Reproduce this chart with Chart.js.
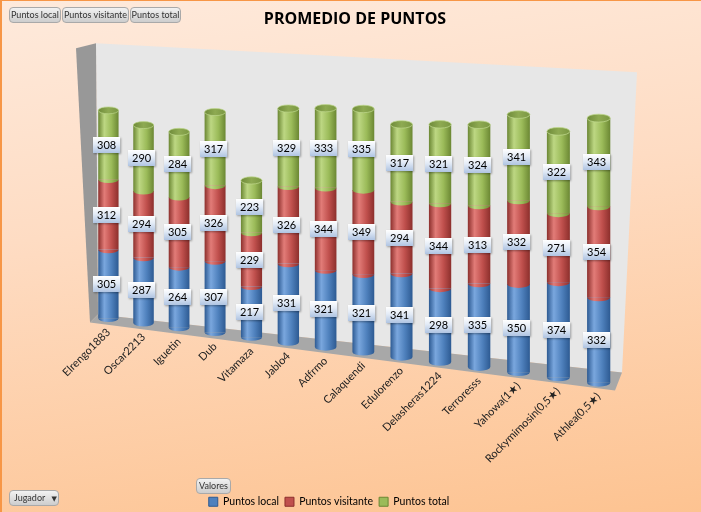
<!DOCTYPE html>
<html>
<head>
<meta charset="utf-8">
<script src="https://cdn.jsdelivr.net/npm/chart.js@4.4.0/dist/chart.umd.min.js"></script>
<style>
html,body{margin:0;padding:0;}
body{width:701px;height:512px;overflow:hidden;position:relative;
  background:linear-gradient(172deg,#feeadc 0%,#fedcc3 40%,#fdc391 100%);}
#c{position:absolute;left:0;top:0;}
#frame{position:absolute;left:0;top:0;width:701px;height:512px;box-sizing:border-box;
  border-top:1px solid #f79646;border-left:2px solid #f79646;pointer-events:none;}
.btn{position:absolute;font:9px Lato,"DejaVu Sans",sans-serif;color:#333;
  background:linear-gradient(#f2f2f2,#cdcdcd);border:1px solid #a9a9a9;border-radius:4px;
  height:16px;line-height:14px;text-align:center;box-sizing:border-box;white-space:nowrap;}
</style>
</head>
<body>
<canvas id="c" width="701" height="512"></canvas>
<div class="btn" style="left:9px;top:7px;width:52px;">Puntos local</div>
<div class="btn" style="left:62px;top:7px;width:67px;">Puntos visitante</div>
<div class="btn" style="left:130px;top:7px;width:51px;">Puntos total</div>
<div class="btn" style="left:196px;top:478px;width:35px;">Valores</div>
<div class="btn" style="left:9px;top:490px;width:50px;text-align:left;padding-left:4px;">Jugador <span style="font-size:7px;margin-left:4px;">▼</span></div>
<div id="frame"></div>
<script>
// ---------- data ----------
const categories = ['Elrengo1883','Oscar2213','Iguetin','Dub','Vitamaza','Jablo4','Adfrmo','Calaquendi','Edulorenzo','Delasheras1224','Terroresss','Yahowa(1★)','Rockymimosin(0,5★)','Athlea(0,5★)'];
const puntosLocal     = [305,287,264,307,217,331,321,321,341,298,335,350,374,332];
const puntosVisitante = [312,294,305,326,229,326,344,349,294,344,313,332,271,354];
const puntosTotal     = [308,290,284,317,223,329,333,335,317,321,324,341,322,343];
const seriesNames = ['Puntos local','Puntos visitante','Puntos total'];
const titleText = 'PROMEDIO DE PUNTOS';

// ---------- styles ----------
const seriesColors = ['#4f81bd','#c0504d','#9bbb59'];
const shadeDark  = ['#2d5a92','#8c2f2c','#6b8733'];
const shadeLight = ['#7aa7de','#e27c78','#bdd783'];
const FONT = 'Lato, "DejaVu Sans", sans-serif';
const FLOOR_SLOPE = 0.131;   // perspective: floor line descends to the right
const DEPTH_LEFT = 0.933, DEPTH_RIGHT = 1.066; // perspective size factor
const X_WARP = 0.08;

function projection(chart, xc) {
  const xs = chart.scales.x, ys = chart.scales.y;
  const x0 = xs.getPixelForValue(0), xn = xs.getPixelForValue(categories.length - 1);
  const t = (xc - x0) / (xn - x0);
  const r = DEPTH_LEFT + (DEPTH_RIGHT - DEPTH_LEFT) * t;
  const yb = ys.getPixelForValue(0);
  const dy = FLOOR_SLOPE * (xc - x0);
  return { r, e: xc * (1 - r), f: yb + dy - r * yb,
           map: (x, y) => [xc + r * (x - xc), yb + dy + r * (y - yb)] };
}

class DepthCategoryScale extends Chart.CategoryScale {
  getPixelForDecimal(decimal) {
    return super.getPixelForDecimal(decimal - X_WARP * decimal * (1 - decimal));
  }
  getLabelItems(chartArea) {
    const items = super.getLabelItems(chartArea);
    const x0 = this.getPixelForValue(0);
    return items.map(it => {
      const tr = it.options.translation;
      return Object.assign({}, it, { options: Object.assign({}, it.options,
        { translation: [tr[0], tr[1] + FLOOR_SLOPE * (tr[0] - x0)] }) });
    });
  }
}
DepthCategoryScale.id = 'depthCategory';
DepthCategoryScale.defaults = Chart.CategoryScale.defaults;

class DepthBarController extends Chart.BarController {
  draw() {
    const meta = this._cachedMeta;
    const ctx = this.chart.ctx;
    meta.data.forEach((el, i) => {
      const v = this.getParsed(i)[meta.vScale.axis];
      if (el.hidden || v === null || v === undefined) return;
      const p = projection(this.chart, el.x);
      ctx.save();
      ctx.transform(p.r, 0, 0, p.r, p.e, p.f);
      el.draw(ctx);
      ctx.restore();
    });
  }
}
DepthBarController.id = 'depthBar';
DepthBarController.defaults = Chart.BarController.defaults;
DepthBarController.overrides = Chart.BarController.overrides;
Chart.register(DepthCategoryScale, DepthBarController);

function barFill(i) {
  return (ctx) => {
    const chart = ctx.chart;
    const xs = chart.scales && chart.scales.x;
    if (ctx.type !== 'data' || !xs || !chart.chartArea) return seriesColors[i];
    const xc = xs.getPixelForValue(ctx.dataIndex);
    const w = (xs.getPixelForValue(1) - xs.getPixelForValue(0)) * 0.62;
    const g = chart.ctx.createLinearGradient(xc - w / 2, 0, xc + w / 2, 0);
    g.addColorStop(0, shadeDark[i]);
    g.addColorStop(0.3, shadeLight[i]);
    g.addColorStop(0.65, seriesColors[i]);
    g.addColorStop(1, shadeDark[i]);
    return g;
  };
}

const depthPlugin = {
  id: 'depthDecor',
  beforeDraw(chart) {
    const ctx = chart.ctx, ca = chart.chartArea;
    const L = ca.left, R = ca.right, T = ca.top, B = ca.bottom;
    const poly = (pts, fill) => {
      ctx.beginPath(); ctx.moveTo(pts[0][0], pts[0][1]);
      for (let k = 1; k < pts.length; k++) ctx.lineTo(pts[k][0], pts[k][1]);
      ctx.closePath(); ctx.fillStyle = fill; ctx.fill();
    };
    ctx.save();
    poly([[L + 5, T - 16], [R + 18, T + 13], [R + 3, B + 54], [L + 7, B - 4]], '#e7e7e7');
    poly([[L - 15, T - 11], [L + 5, T - 16], [L + 7, B - 4], [L - 1, B + 4]], '#989898');
    poly([[L + 7, B - 4], [R + 3, B + 54], [R - 4, B + 72], [L - 1, B + 4]], '#a8a8a8');
    ctx.restore();
  },
  afterDatasetsDraw(chart) {
    const ctx = chart.ctx;
    // cylinder ellipses
    for (let d = 0; d < chart.data.datasets.length; d++) {
      const meta = chart.getDatasetMeta(d);
      meta.data.forEach((el) => {
        const p = projection(chart, el.x);
        const rx = el.width / 2, ry = el.width * 0.17;
        ctx.save();
        ctx.transform(p.r, 0, 0, p.r, p.e, p.f);
        ctx.fillStyle = el.options.backgroundColor;
        ctx.beginPath(); ctx.ellipse(el.x, el.base, rx, ry, 0, 0, Math.PI); ctx.fill();
        if (d === chart.data.datasets.length - 1) {
          const g = ctx.createLinearGradient(el.x - rx, 0, el.x + rx, 0);
          g.addColorStop(0, '#6f8b3a'); g.addColorStop(0.5, '#8eaa52'); g.addColorStop(1, '#7a9742');
          ctx.fillStyle = g;
          ctx.beginPath(); ctx.ellipse(el.x, el.y, rx, ry, 0, 0, Math.PI * 2); ctx.fill();
          ctx.strokeStyle = 'rgba(190,215,140,0.9)'; ctx.lineWidth = 0.8; ctx.stroke();
        }
        ctx.restore();
      });
    }
    // data labels
    ctx.save();
    ctx.font = '11px ' + FONT;
    ctx.textAlign = 'center'; ctx.textBaseline = 'middle';
    for (let d = 0; d < chart.data.datasets.length; d++) {
      const meta = chart.getDatasetMeta(d);
      const vals = chart.data.datasets[d].data;
      meta.data.forEach((el, i) => {
        const p = projection(chart, el.x);
        const [sx, sy] = p.map(el.x, (el.y + el.base) / 2);
        const txt = String(vals[i]);
        const bw = ctx.measureText(txt).width + 8, bh = 16;
        const bx = Math.round(sx - bw / 2 - 2), by = Math.round(sy - bh / 2);
        const g = ctx.createLinearGradient(0, by, 0, by + bh);
        g.addColorStop(0, '#ffffff'); g.addColorStop(0.45, '#e3ebf6'); g.addColorStop(1, '#afc4e2');
        ctx.shadowColor = 'rgba(0,0,0,0.35)'; ctx.shadowBlur = 2; ctx.shadowOffsetX = 1; ctx.shadowOffsetY = 1;
        ctx.fillStyle = g; ctx.fillRect(bx, by, bw, bh);
        ctx.shadowColor = 'transparent';
        ctx.fillStyle = '#000';
        ctx.fillText(txt, bx + bw / 2, by + bh / 2 + 0.5);
      });
    }
    ctx.restore();
  }
};

const datasets = [puntosLocal, puntosVisitante, puntosTotal].map((arr, i) => ({
  label: seriesNames[i],
  data: arr,
  backgroundColor: barFill(i),
  borderWidth: 0,
  clip: false,
  barPercentage: 0.62,
  categoryPercentage: 1.0
}));

new Chart(document.getElementById('c'), {
  type: 'depthBar',
  data: { labels: categories, datasets },
  plugins: [depthPlugin],
  options: {
    responsive: false,
    animation: false,
    events: [],
    layout: { padding: { left: 0, right: 43, top: 0, bottom: -5 } },
    scales: {
      x: {
        type: 'depthCategory',
        stacked: true,
        offset: true,
        grid: { display: false, drawTicks: false },
        border: { display: false },
        ticks: { autoSkip: false, minRotation: 45, maxRotation: 45, padding: 8,
                 color: '#222', font: { family: FONT, size: 11 } },
        afterFit: (s) => { s.height = 172; }
      },
      y: {
        stacked: true, min: 0, max: 1075,
        grid: { display: false }, border: { display: false },
        ticks: { display: false },
        afterFit: (s) => { s.width = 91; }
      },
      y2: {
        position: 'right', min: 0, max: 1,
        grid: { display: false }, border: { display: false },
        ticks: { display: false },
        afterFit: (s) => { s.width = 39; }
      }
    },
    plugins: {
      tooltip: { enabled: false },
      title: {
        display: true, text: titleText, fullSize: false,
        color: '#000', font: { family: '"Open Sans", sans-serif', size: 16, weight: 'bold' },
        padding: { top: 10, bottom: 30 }
      },
      legend: {
        position: 'bottom',
        labels: {
          boxWidth: 9, boxHeight: 9, padding: 6, color: '#1a1a1a',
          font: { family: FONT, size: 10.5 },
          generateLabels: () => seriesNames.map((n, i) => ({
            text: n, fillStyle: seriesColors[i], strokeStyle: shadeDark[i],
            lineWidth: 1, hidden: false, datasetIndex: i
          }))
        }
      }
    }
  }
});
</script>
</body>
</html>
